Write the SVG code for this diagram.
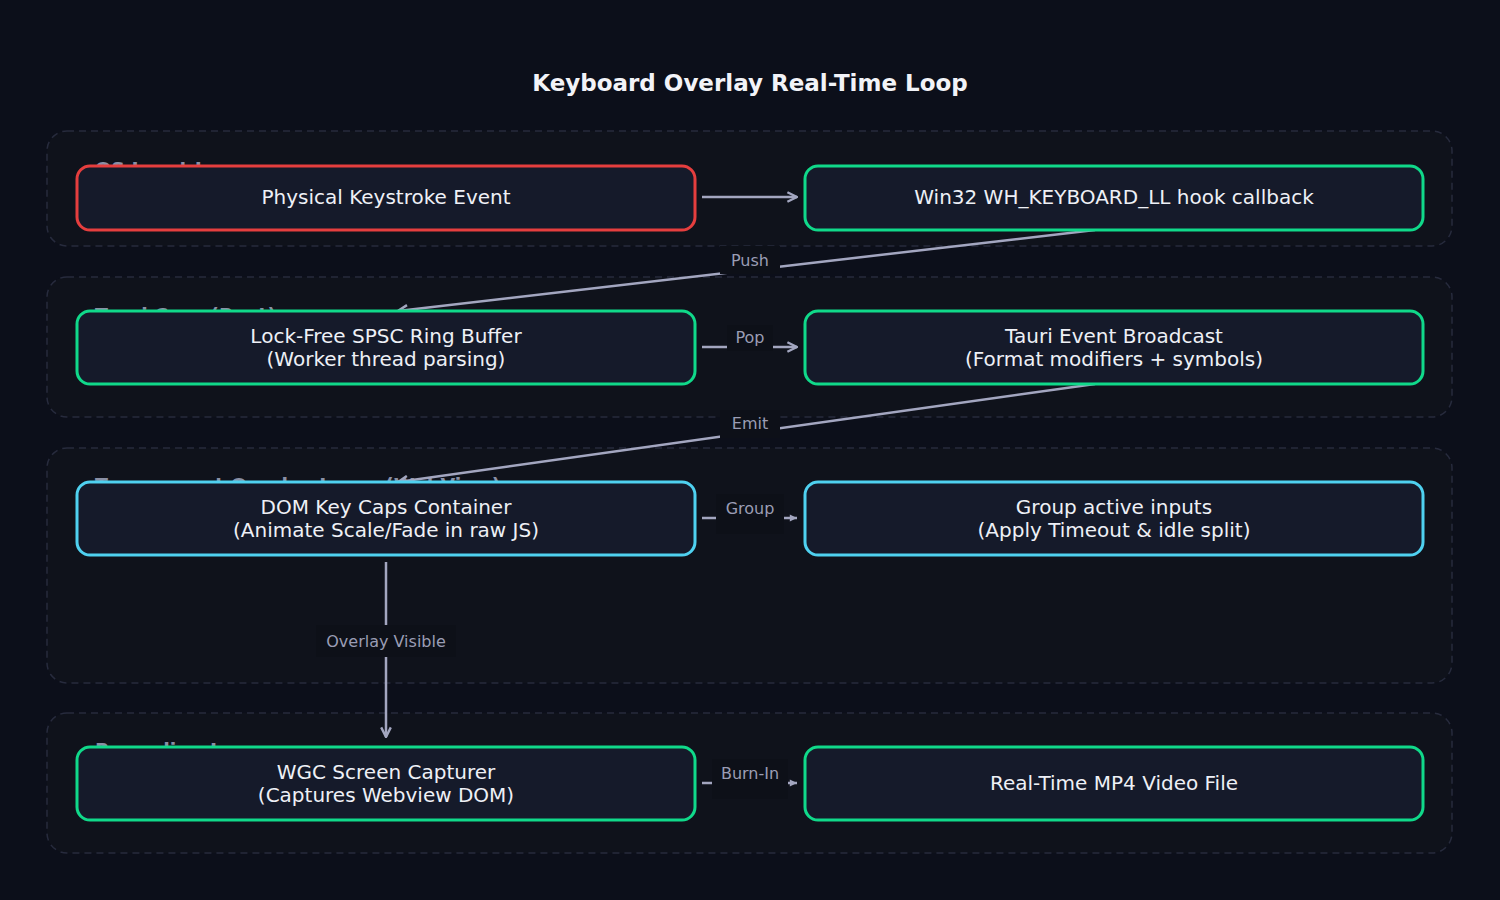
<svg xmlns="http://www.w3.org/2000/svg" width="1500" height="900" viewBox="0 0 1500 900">
<defs>
<style>
.grp{fill:#0f121b;stroke:#272b3d;stroke-width:1.5;stroke-dasharray:7 5}
.gl{font-family:"DejaVu Sans",sans-serif;font-size:19px;font-weight:bold;fill:#8a90a6}
.node{fill:#151a2a;stroke-width:3}
.t{font-family:"DejaVu Sans",sans-serif;font-size:20px;fill:#eef0f6;text-anchor:middle}
.e{stroke:#a3a6c0;stroke-width:2.5;fill:none}
.el{font-family:"DejaVu Sans",sans-serif;font-size:16px;fill:#9a9db4;text-anchor:middle}
.lb{fill:#0d1018}
</style>
<marker id="a" viewBox="0 0 10 10" refX="9" refY="5" markerWidth="12" markerHeight="12" markerUnits="userSpaceOnUse" orient="auto"><path d="M1,1 L9,5 L1,9" fill="none" stroke="#a3a6c0" stroke-width="2"/></marker>
<marker id="b" viewBox="0 0 10 10" refX="9" refY="5" markerWidth="9" markerHeight="9" markerUnits="userSpaceOnUse" orient="auto"><path d="M1,1 L9,5 L1,9Z" fill="#a3a6c0"/></marker>
</defs>
<rect width="1500" height="900" fill="#0c0f1a"/>
<text x="750" y="91" font-family="DejaVu Sans,sans-serif" font-size="23" font-weight="bold" fill="#f2f3f8" text-anchor="middle">Keyboard Overlay Real-Time Loop</text>
<g id="groups">
<rect class="grp" x="47" y="131" width="1405" height="115" rx="20"/>
<text class="gl" x="95" y="176">OS Input Layer</text>
<rect class="grp" x="47" y="277" width="1405" height="140" rx="20"/>
<text class="gl" x="95" y="322">Tauri Core (Rust)</text>
<rect class="grp" x="47" y="448" width="1405" height="235" rx="20"/>
<text class="gl" x="95" y="492">Transparent Overlay Layer (WebView)</text>
<rect class="grp" x="47" y="713" width="1405" height="140" rx="20"/>
<text class="gl" x="95" y="757">Recording Layer</text>
</g>
<g id="connectors">
<line class="e" x1="702" y1="197" x2="797" y2="197" marker-end="url(#a)"/>
<line class="e" x1="1095" y1="230" x2="398" y2="311" marker-end="url(#a)"/>
<rect class="lb" x="720" y="246" width="60" height="28"/><text class="el" x="750" y="266">Push</text>
<line class="e" x1="702" y1="347" x2="797" y2="347" marker-end="url(#a)"/>
<rect class="lb" x="727" y="325" width="46" height="26"/><text class="el" x="750" y="343">Pop</text>
<line class="e" x1="1095" y1="384" x2="398" y2="482" marker-end="url(#a)"/>
<rect class="lb" x="720" y="410" width="60" height="28"/><text class="el" x="750" y="429">Emit</text>
<line class="e" x1="702" y1="518" x2="797" y2="518" marker-end="url(#b)"/>
<rect class="lb" x="716" y="494" width="68" height="40"/><text class="el" x="750" y="514">Group</text>
<line class="e" x1="386" y1="562" x2="386" y2="737" marker-end="url(#a)"/>
<rect class="lb" x="316" y="625" width="140" height="32"/><text class="el" x="386" y="647">Overlay Visible</text>
<line class="e" x1="702" y1="783" x2="797" y2="783" marker-end="url(#b)"/>
<rect class="lb" x="712" y="759" width="76" height="40"/><text class="el" x="750" y="779">Burn-In</text>
</g>
<g id="n1"><rect class="node" x="77" y="166" width="618" height="64" rx="13" stroke="#e53e3e"/><text class="t" x="386" y="204">Physical Keystroke Event</text></g>
<g id="n2"><rect class="node" x="805" y="166" width="618" height="64" rx="13" stroke="#10d98a"/><text class="t" x="1114" y="204">Win32 WH_KEYBOARD_LL hook callback</text></g>
<g id="n3"><rect class="node" x="77" y="311" width="618" height="73" rx="13" stroke="#10d98a"/><text class="t" x="386" y="343">Lock-Free SPSC Ring Buffer</text><text class="t" x="386" y="366">(Worker thread parsing)</text></g>
<g id="n4"><rect class="node" x="805" y="311" width="618" height="73" rx="13" stroke="#10d98a"/><text class="t" x="1114" y="343">Tauri Event Broadcast</text><text class="t" x="1114" y="366">(Format modifiers + symbols)</text></g>
<g id="n5"><rect class="node" x="77" y="482" width="618" height="73" rx="13" stroke="#4fd1f0"/><text class="t" x="386" y="514">DOM Key Caps Container</text><text class="t" x="386" y="537">(Animate Scale/Fade in raw JS)</text></g>
<g id="n6"><rect class="node" x="805" y="482" width="618" height="73" rx="13" stroke="#4fd1f0"/><text class="t" x="1114" y="514">Group active inputs</text><text class="t" x="1114" y="537">(Apply Timeout &amp; idle split)</text></g>
<g id="n7"><rect class="node" x="77" y="747" width="618" height="73" rx="13" stroke="#10d98a"/><text class="t" x="386" y="779">WGC Screen Capturer</text><text class="t" x="386" y="802">(Captures Webview DOM)</text></g>
<g id="n8"><rect class="node" x="805" y="747" width="618" height="73" rx="13" stroke="#10d98a"/><text class="t" x="1114" y="790">Real-Time MP4 Video File</text></g>
</svg>
